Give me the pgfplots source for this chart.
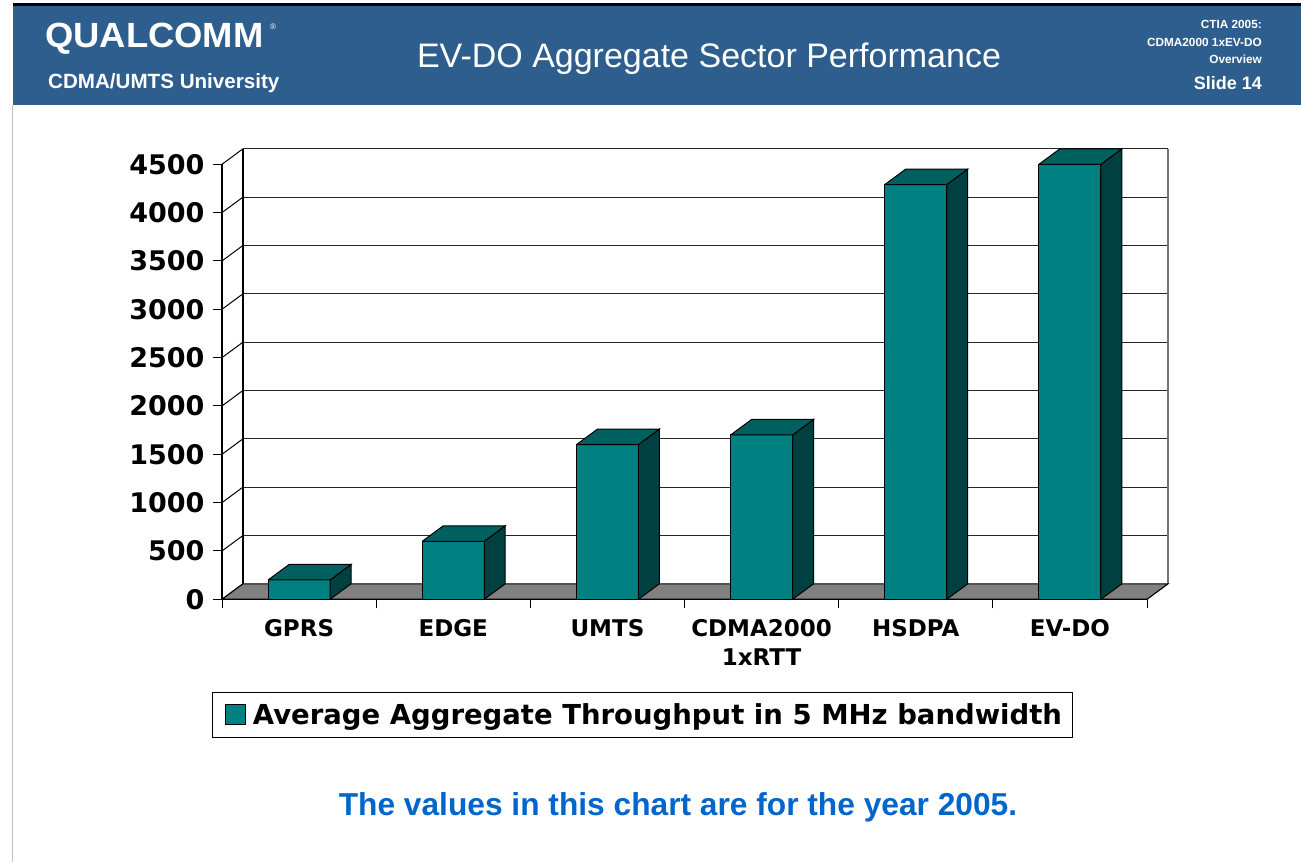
\documentclass[border=0pt]{standalone}
\usepackage{fontspec}
\setmainfont{Liberation Sans}
\newfontfamily\dv{DejaVu Sans}
\usepackage{pgfplots}
\usepackage{pgfplotstable}
\pgfplotsset{compat=1.18}
\definecolor{hdrblue}{RGB}{46,94,142}
\definecolor{barfront}{RGB}{0,128,128}
\definecolor{bartop}{RGB}{0,96,96}
\definecolor{barside}{RGB}{0,64,64}
\definecolor{floorgray}{RGB}{128,128,128}
\definecolor{footblue}{RGB}{0,102,204}

\pgfplotstableread{
x y
0.5 200
1.5 600
2.5 1600
3.5 1700
4.5 4290
5.5 4500
}\datatable

\begin{document}
\begin{tikzpicture}[x=1pt,y=1pt]
\useasboundingbox (0,0) rectangle (1301,862);
\fill[white] (0,0) rectangle (1301,862);
% header band
\fill[black] (12.5,856) rectangle (1301,858.5);
\fill[hdrblue] (12.5,756.5) rectangle (1301,856);
\draw[black!25, line width=1.2pt] (12.5,0) -- (12.5,756.5);
\node[anchor=base west, inner sep=0, text=white, font=\bfseries\fontsize{35}{35}\selectfont, xscale=1.04] at (45,814) {QUALCOMM};
\node[anchor=base west, inner sep=0, text=white, font=\fontsize{8}{8}\selectfont] at (270,832) {®};
\node[anchor=base west, inner sep=0, text=white, font=\bfseries\fontsize{20.6}{20.6}\selectfont] at (48,773) {CDMA/UMTS University};
\node[anchor=base, inner sep=0, text=white, font=\fontsize{34}{34}\selectfont] at (709,794) {EV-DO Aggregate Sector Performance};
\node[anchor=base east, inner sep=0, text=white, font=\bfseries\fontsize{11.8}{11.8}\selectfont] at (1262,833.5) {CTIA 2005:};
\node[anchor=base east, inner sep=0, text=white, font=\bfseries\fontsize{11.8}{11.8}\selectfont] at (1262,815.3) {CDMA2000 1xEV-DO};
\node[anchor=base east, inner sep=0, text=white, font=\bfseries\fontsize{11.8}{11.8}\selectfont] at (1262,798.7) {Overview};
\node[anchor=base east, inner sep=0, text=white, font=\bfseries\fontsize{18}{18}\selectfont] at (1262,772.7) {Slide 14};
% footer
\node[anchor=base, inner sep=0, text=footblue, font=\bfseries\fontsize{31.7}{31.7}\selectfont] at (678,46) {The values in this chart are for the year 2005.};

\begin{axis}[
  at={(222pt,262.7pt)}, anchor=south west,
  scale only axis, width=946pt, height=450.5pt,
  xmin=0, xmax=6.136, ymin=0, ymax=4660,
  clip=false,
  axis line style={draw=none},
  tick pos=left,
  tick align=outside,
  major tick length=9pt,
  tick style={black, line width=1pt},
  xtick={0,1,2,3,4,5,6}, xticklabels={},
  extra x ticks={0.5,1.5,2.5,3.5,4.5,5.5},
  extra x tick labels={GPRS,EDGE,UMTS,{CDMA2000\\1xRTT},HSDPA,EV-DO},
  extra x tick style={major tick length=0pt},
  xticklabel style={font=\dv\bfseries\fontsize{23}{29}\selectfont, align=center, yshift=-17pt},
  ytick={0,500,1000,1500,2000,2500,3000,3500,4000,4500},
  scaled y ticks=false,
  yticklabel style={font=\dv\bfseries\fontsize{27}{27}\selectfont, xshift=-5pt},
  /pgf/number format/1000 sep={},
  /pgf/number format/assume math mode=true,
  legend style={at={(0.445,-0.2568)}, anchor=center, draw=black, line width=1pt, fill=white,
    font=\dv\bfseries\fontsize{27.5}{27.5}\selectfont, inner xsep=9pt, inner ysep=9pt},
  legend cell align=left,
]
% back wall gridlines
\pgfplotsinvokeforeach{660,1160,1660,2160,2660,3160,3660,4160,4660}{
  \addplot[black!85, line width=1.1pt, forget plot] coordinates {(0.136,#1) (6.136,#1)};
}
% left wall diagonals
\pgfplotsinvokeforeach{0,500,1000,1500,2000,2500,3000,3500,4000,4500}{
  \pgfmathsetmacro{\yb}{#1+160}
  \addplot[black, line width=1pt, forget plot] coordinates {(0,#1) (0.136,\yb)};
}
\addplot[black, line width=1.1pt, forget plot] coordinates {(0.136,160) (0.136,4660)};
\addplot[black, line width=1.1pt, forget plot] coordinates {(0,0) (0,4500)};
\addplot[floorgray!90!black, line width=1.1pt, forget plot] coordinates {(6.136,160) (6.136,4660)};
% floor
\addplot[fill=floorgray, draw=black, line width=1.1pt, forget plot] coordinates {(0,0) (6,0) (6.136,160) (0.136,160) (0,0)};
% bar fronts
\addplot[ybar, bar width=0.402, fill=barfront, draw=black, line width=1pt,
  legend image code/.code={\path[draw=none, fill=none] (-4pt,0pt) -- (25pt,0pt); \draw[fill=barfront, draw=black, line width=1pt] (0pt,-10pt) rectangle (20pt,10pt);}]
  table[x=x,y=y]{\datatable};
\addlegendentry{Average Aggregate Throughput in 5 MHz bandwidth}
% bar sides and tops
\pgfplotsinvokeforeach{0,1,2,3,4,5}{
  \pgfplotstablegetelem{#1}{x}\of\datatable \let\cx\pgfplotsretval
  \pgfplotstablegetelem{#1}{y}\of\datatable \let\cv\pgfplotsretval
  \pgfmathsetmacro{\xl}{\cx-0.201}
  \pgfmathsetmacro{\xr}{\cx+0.201}
  \pgfmathsetmacro{\xrb}{\cx+0.337}
  \pgfmathsetmacro{\xlb}{\cx-0.065}
  \pgfmathsetmacro{\vb}{\cv+160}
  \addplot[fill=barside, draw=black, line width=1pt, forget plot] coordinates {(\xr,0) (\xrb,160) (\xrb,\vb) (\xr,\cv) (\xr,0)};
  \addplot[fill=bartop, draw=black, line width=1pt, forget plot] coordinates {(\xl,\cv) (\xr,\cv) (\xrb,\vb) (\xlb,\vb) (\xl,\cv)};
}
\end{axis}
\end{tikzpicture}
\end{document}
